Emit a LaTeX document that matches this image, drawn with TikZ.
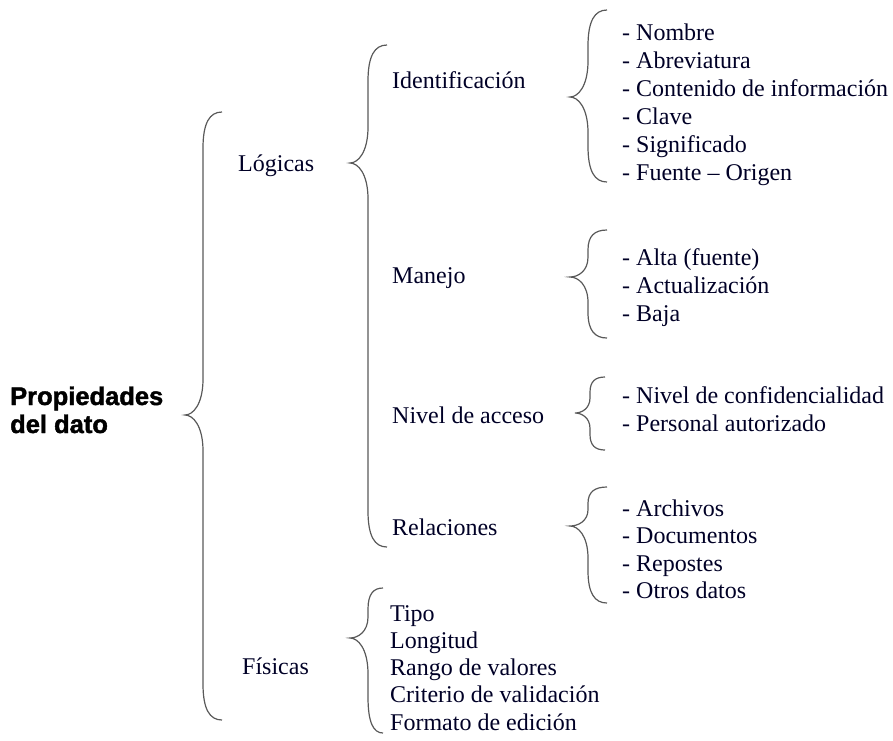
\documentclass[tikz,border=0pt]{standalone}
\usepackage{fontspec}
\setmainfont{Liberation Serif}
\newfontface\heavy{Liberation Sans Bold}[FakeBold=1.6]
\tikzset{
  brc/.style={draw=black!65, line width=1.2pt},
  lbl/.style={anchor=base west, inner sep=0pt, font=\fontsize{24}{28}\selectfont, text=black!85!blue},
  ttl/.style={anchor=base west, inner sep=0pt, font=\heavy\fontsize{25.5}{28}\selectfont},
}
% #1 tip x, #2 vertical x, #3 end x, #4 top y, #5 tip y, #6 bottom y
\newcommand{\mybrace}[6]{%
  \pgfmathsetmacro\hA{min(36,0.42*(#5-#4))}%
  \pgfmathsetmacro\hB{min(36,0.42*(#6-#5))}%
  \pgfmathsetmacro\dx{#3-#2}%
  \pgfmathsetmacro\dt{#2-#1}%
  \coordinate (tmpA) at (#3,#4);
  \coordinate (tmpT) at (#1,#5);
  \coordinate (tmpB) at (#3,#6);
  \draw[brc] (tmpA) .. controls (#2+0.35*\dx,#4) and (#2,#4+0.3*\hA) .. (#2,#4+\hA)
     -- (#2,#5-\hA) .. controls (#2,#5-0.3*\hA) and (#1+0.45*\dt,#5) .. (tmpT)
     .. controls (#1+0.45*\dt,#5) and (#2,#5+0.3*\hB) .. (#2,#5+\hB)
     -- (#2,#6-\hB) .. controls (#2,#6-0.3*\hB) and (#2+0.35*\dx,#6) .. (tmpB);}
\begin{document}
\begin{tikzpicture}[x=1pt,y=-1pt]
\useasboundingbox (0,0) rectangle (893,740);
% root
\node[ttl] (root1) at (10,405) {Propiedades};
\node[ttl] (root2) at (10,433) {del dato};
% level 1
\node[lbl] (log) at (238,171) {Lógicas};
\node[lbl] (fis) at (242,674) {Físicas};
% level 2
\node[lbl] (ide) at (392,88) {Identificación};
\node[lbl] (man) at (392,283) {Manejo};
\node[lbl] (niv) at (392,423) {Nivel de acceso};
\node[lbl] (rel) at (392,535) {Relaciones};
% lists
\foreach \t [count=\i] in {Nombre,Abreviatura,Contenido de información,Clave,Significado,Fuente -- Origen}
  \node[lbl] (id\i) at (622,{12+28*\i}) {- \t};
\foreach \t [count=\i] in {Alta (fuente),Actualización,Baja}
  \node[lbl] (ma\i) at (622,{237+28*\i}) {- \t};
\foreach \t [count=\i] in {Nivel de confidencialidad,Personal autorizado}
  \node[lbl] (ni\i) at (622,{375+28*\i}) {- \t};
\foreach \t [count=\i] in {Archivos,Documentos,Repostes,Otros datos}
  \node[lbl] (re\i) at (622,{488.5+27.5*\i}) {- \t};
\foreach \t [count=\i] in {Tipo,Longitud,Rango de valores,Criterio de validación,Formato de edición}
  \node[lbl] (fi\i) at (390,{594+27.2*\i}) {\t};
% braces
\mybrace{185}{203}{222}{112}{415}{720}
\mybrace{350}{368}{387}{45}{163}{547}
\mybrace{350}{368}{383}{588}{638}{733}
\mybrace{570}{588}{607}{10}{97}{182}
\mybrace{570}{588}{607}{230}{277}{338}
\mybrace{575}{590}{605}{377}{413}{450}
\mybrace{570}{588}{607}{487}{526}{603}
\end{tikzpicture}
\end{document}
